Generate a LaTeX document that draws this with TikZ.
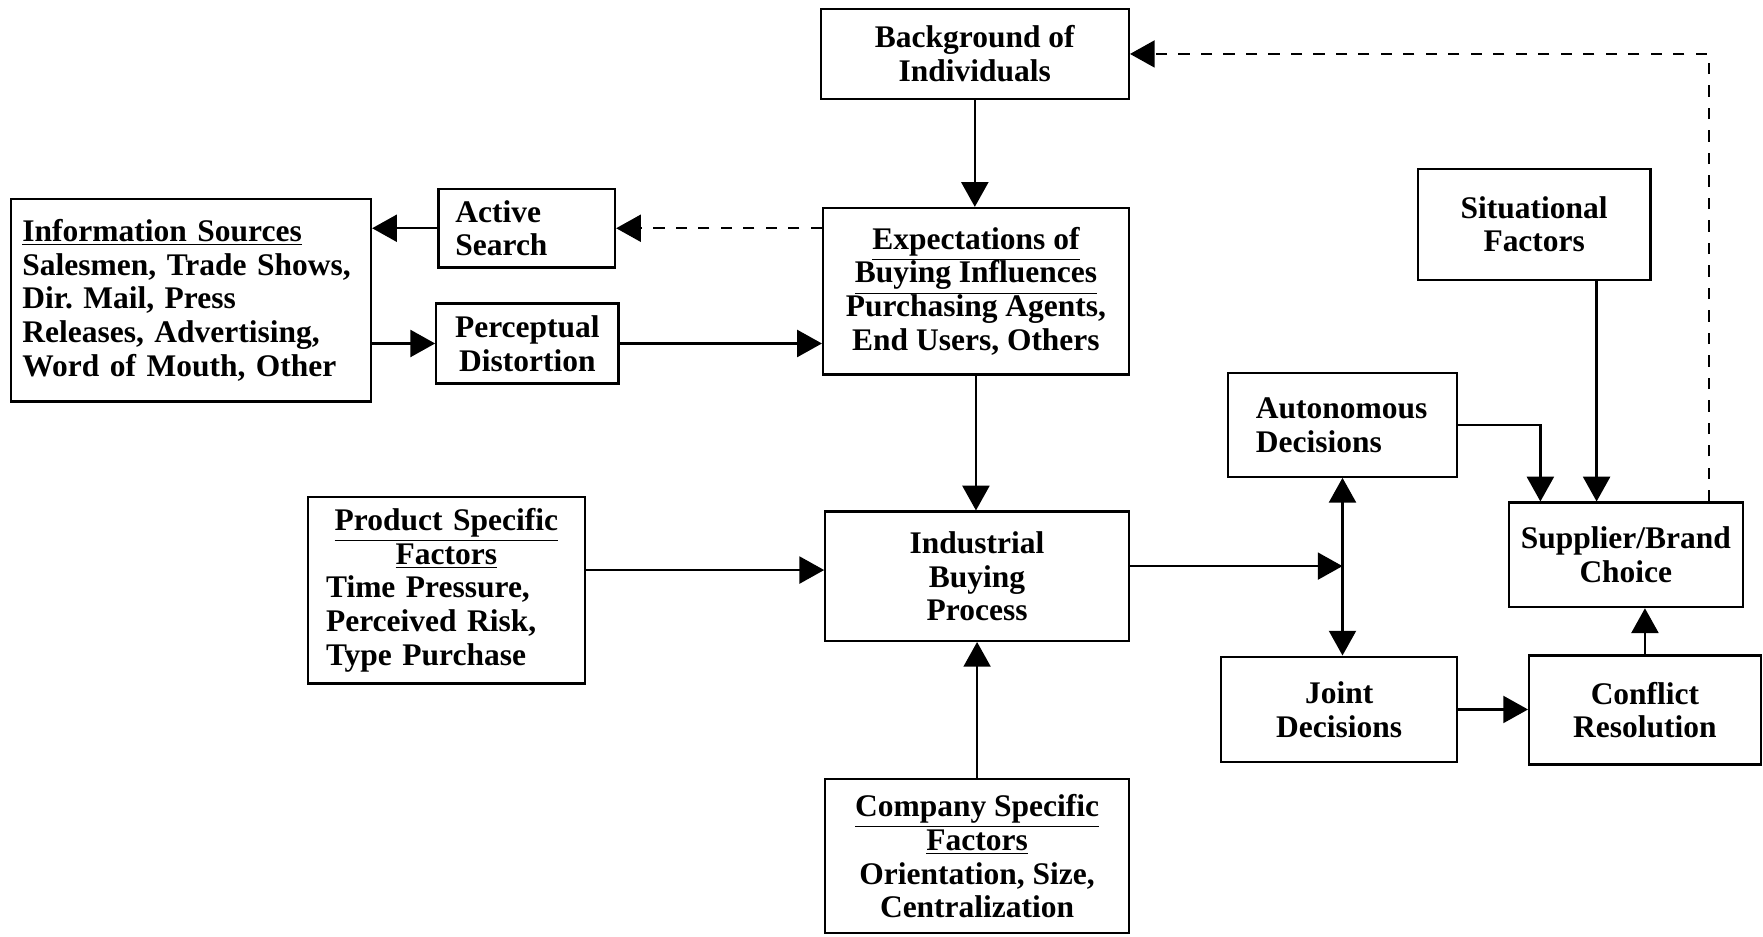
\documentclass[tikz,border=0pt]{standalone}
\usepackage{fontspec}
\setmainfont{Liberation Serif}
\usetikzlibrary{arrows.meta}
\begin{document}
\frenchspacing
\begin{tikzpicture}[x=0.5pt,y=-0.5pt,
  box/.style={draw, line width=1pt, inner sep=0pt, align=center,
    font=\fontsize{14}{15}\selectfont\bfseries},
  tip/.tip={Triangle[length=11pt,width=12pt]},
  arr/.style={line width=1pt, -tip},
  dashline/.style={dash pattern=on 5pt off 5pt}]
\useasboundingbox (0,0) rectangle (1568,833);

% boxes
\node[box, minimum width=137pt, minimum height=40pt] (bg) at (867,48)
  {Background of\\Individuals};
\node[box, align=left, text width=150pt, inner xsep=5pt, minimum height=90pt] (info) at (170,267)
  {\underline{Information Sources}\\Salesmen, Trade Shows,\\Dir.\ Mail, Press\\Releases, Advertising,\\Word of Mouth, Other};
\node[box, align=left, text width=63.5pt, inner xsep=7.5pt, minimum height=35pt] (as) at (468.5,203)
  {Active\\Search};
\node[box, minimum width=81pt, minimum height=35.5pt] (pd) at (469,305.5)
  {Perceptual\\Distortion};
\node[box, minimum width=136pt, minimum height=74pt] (exp) at (868,259)
  {\underline{Expectations of}\\\underline{Buying Influences}\\Purchasing Agents,\\End Users, Others};
\node[box, minimum width=103.5pt, minimum height=49.5pt] (sit) at (1364.5,199.5)
  {Situational\\Factors};
\node[box, align=left, text width=77pt, inner xsep=12.5pt, minimum height=46pt] (auto) at (1194,378)
  {Autonomous\\Decisions};
\node[box, align=left, text width=107pt, inner xsep=8pt, minimum height=83pt] (prod) at (397,525)
  {\makebox[\linewidth]{\underline{Product Specific}}\\\makebox[\linewidth]{\underline{Factors}}\\Time Pressure,\\Perceived Risk,\\Type Purchase};
\node[box, minimum width=135pt, minimum height=57.5pt] (ibp) at (869,512.5)
  {Industrial\\Buying\\Process};
\node[box, minimum width=104pt, minimum height=46.5pt] (sup) at (1446,493.5)
  {Supplier/Brand\\Choice};
\node[box, minimum width=105pt, minimum height=47pt] (joint) at (1191,631)
  {Joint\\Decisions};
\node[box, minimum width=103pt, minimum height=48.5pt] (conf) at (1463,631.5)
  {Conflict\\Resolution};
\node[box, minimum width=135pt, minimum height=68.5pt] (comp) at (869,761.5)
  {\underline{Company Specific}\\\underline{Factors}\\Orientation, Size,\\Centralization};

% connectors
\coordinate (dx) at (1520,0);
\coordinate (ax) at (1370,0);
\coordinate (sx) at (1420,0);

\draw[arr] (bg.south) -- (bg.south |- exp.north);
\draw[arr, dashline] (sup.north -| dx) |- (bg.east);
\draw[arr, dashline] (exp.west |- as.east) -- (as.east);
\draw[arr] (as.west) -- (info.east |- as.west);
\draw[arr] (info.east |- pd.west) -- (pd.west);
\draw[arr] (pd.east) -- (exp.west |- pd.east);
\draw[arr] (exp.south) -- (exp.south |- ibp.north);
\draw[arr] ([yshift=9pt]prod.east) -- ([yshift=9pt]prod.east -| ibp.west);
\draw[arr] (comp.north) -- (comp.north |- ibp.south);
\draw[arr] ([yshift=4.5pt]ibp.east) -- ([yshift=4.5pt]ibp.east -| auto.south);
\draw[line width=1pt, tip-tip] (auto.south) -- (auto.south |- joint.north);
\draw[arr] (auto.east) -| (sup.north -| ax);
\draw[arr] (sit.south -| sx) -- (sup.north -| sx);
\draw[arr] (joint.east) -- (joint.east -| conf.west);
\draw[arr] (conf.north) -- (conf.north |- sup.south);
\end{tikzpicture}
\end{document}
